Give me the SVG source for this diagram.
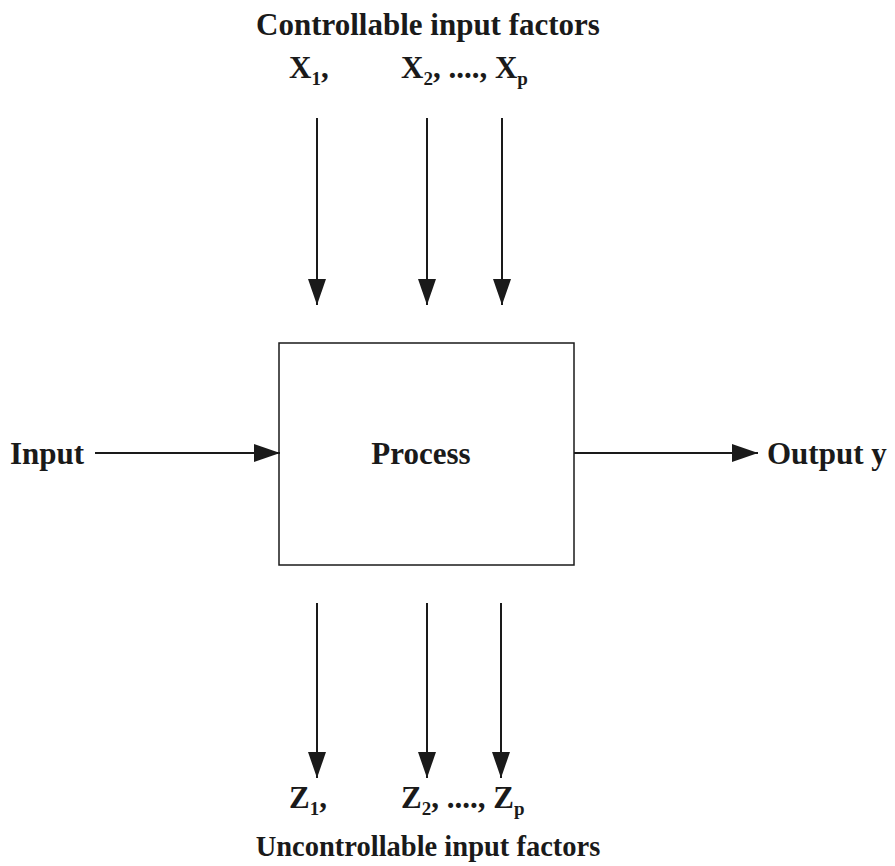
<svg xmlns="http://www.w3.org/2000/svg" width="895" height="866" viewBox="0 0 895 866">
<style>
text{font-family:"Liberation Serif","Times New Roman",serif;font-weight:bold;fill:#1a1a1a}
.t{font-size:31px}
.u{font-size:28.5px}
.l{font-size:31px}
.s{font-size:19px}
.c line{stroke:#1a1a1a;stroke-width:2}
</style>
<defs>
<marker id="ah" viewBox="0 0 26 18" refX="26" refY="9" markerWidth="26" markerHeight="18" markerUnits="userSpaceOnUse" orient="auto">
<path d="M0,0 L26,9 L0,18 Z" fill="#1a1a1a"/>
</marker>
</defs>
<rect width="895" height="866" fill="#fff"/>
<g id="title-top"><text class="t" x="428" y="35" text-anchor="middle">Controllable input factors</text></g>
<g id="x-labels">
<text class="l" x="289" y="78">X<tspan class="s" dy="7">1</tspan><tspan dy="-7">,</tspan></text>
<text class="l" x="401" y="78">X<tspan class="s" dy="7">2</tspan><tspan dy="-7">, ...., X</tspan><tspan class="s" dy="7">p</tspan></text>
</g>
<g id="process"><rect x="279" y="343" width="295" height="222" fill="none" stroke="#1a1a1a" stroke-width="1.5"/><text class="l" x="421" y="464" text-anchor="middle">Process</text></g>
<g id="input"><text class="l" x="10" y="464">Input</text></g>
<g id="output"><text class="l" x="767" y="464">Output y</text></g>
<g id="z-labels">
<text class="l" x="289" y="808">Z<tspan class="s" dy="7">1</tspan><tspan dy="-7">,</tspan></text>
<text class="l" x="401" y="808">Z<tspan class="s" dy="7">2</tspan><tspan dy="-7">, ...., Z</tspan><tspan class="s" dy="7">p</tspan></text>
</g>
<g id="title-bottom"><text class="u" x="428" y="856" text-anchor="middle">Uncontrollable input factors</text></g>
<g id="connectors" class="c">
<line x1="317" y1="118" x2="317" y2="305" marker-end="url(#ah)"/>
<line x1="427" y1="118" x2="427" y2="305" marker-end="url(#ah)"/>
<line x1="502" y1="118" x2="502" y2="305" marker-end="url(#ah)"/>
<line x1="95" y1="453" x2="280" y2="453" marker-end="url(#ah)"/>
<line x1="574" y1="453" x2="758" y2="453" marker-end="url(#ah)"/>
<line x1="317" y1="603" x2="317" y2="778" marker-end="url(#ah)"/>
<line x1="427" y1="603" x2="427" y2="778" marker-end="url(#ah)"/>
<line x1="501" y1="603" x2="501" y2="778" marker-end="url(#ah)"/>
</g>
</svg>
